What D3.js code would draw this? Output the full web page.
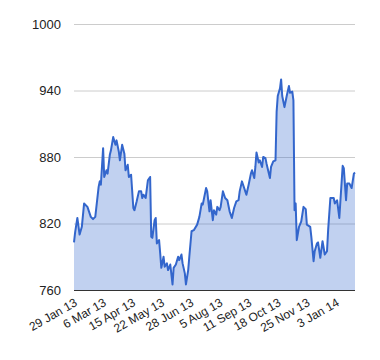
<!DOCTYPE html>
<html><head><meta charset="utf-8">
<script src="https://cdn.jsdelivr.net/npm/d3@7"></script>
<style>body{margin:0;background:#fff}svg{display:block}</style>
</head><body><svg id="c" width="380" height="360"></svg>
<script>
// trading-day index (0..251) and closing values
const days = [0,1,3,5,7,9,12,15,17,19,22,23,24,26,27,29,30,32,33,35,37,38,40,41,43,45,46,48,49,51,53,54,56,58,60,61,62,64,66,68,69,70,72,73,74,76,77,78,80,81,83,84,86,88,89,91,93,94,96,97,99,100,102,103,105,107,110,112,114,115,118,119,121,122,124,125,127,128,130,131,133,135,137,139,141,143,145,147,148,150,152,153,154,156,158,159,161,162,163,165,166,168,169,171,172,175,176,178,180,181,182,184,185,186,188,190,192,193,195,196,197,198,199,201,203,205,207,208,211,212,214,215,217,218,220,222,224,226,227,229,232,233,235,237,238,240,241,243,244,246,248,250,251];
const values = [803,812,825,810,817,838,835,826,824,826,853,858,855,888,862,868,865,882,886,898,891,895,885,877,891,883,868,873,862,864,834,832,840,849,849,843,846,843,859,862,808,807,823,825,802,805,793,780,790,781,784,778,783,765,780,783,790,787,792,784,775,765,778,790,813,814,819,826,838,837,852,849,831,841,823,832,828,835,832,835,849,843,841,831,825,834,840,841,849,858,852,849,846,855,865,868,861,871,884,875,877,871,880,879,874,861,871,876,877,921,935,942,950,935,925,935,944,938,939,931,832,838,805,817,822,835,833,819,817,808,786,795,802,803,789,804,792,795,814,843,843,838,841,825,841,872,870,841,856,856,852,865,866];
const tickDays = [0,26,52,78,104,130,156,182,208,234];
const tickLabels = ["29 Jan 13","6 Mar 13","15 Apr 13","22 May 13","28 Jun 13","5 Aug 13","11 Sep 13","18 Oct 13","25 Nov 13","3 Jan 14"];
const yTicks = [760,820,880,940,1000];

const svg = d3.select("#c");
const L = 74, R = 355, T = 24, B = 290;
const x = d3.scaleLinear().domain([0,251]).range([L,R]);
const y = d3.scaleLinear().domain([760,1000]).range([B,T]);
const data = days.map((d,i)=>({d, v: values[i]}));
const font = "Arial, 'Liberation Sans', sans-serif";

// gridlines
svg.append("g").selectAll("line").data(yTicks.slice(1)).join("line")
  .attr("x1",L).attr("x2",R).attr("y1",d=>y(d)+0.5).attr("y2",d=>y(d)+0.5)
  .attr("stroke","#cccccc").attr("stroke-width",1);

// area
svg.append("path").datum(data)
  .attr("d", d3.area().x(p=>x(p.d)).y0(y(760)).y1(p=>y(p.v)))
  .attr("fill","#3366cc").attr("fill-opacity",0.3);
// line
svg.append("path").datum(data)
  .attr("d", d3.line().x(p=>x(p.d)).y(p=>y(p.v)))
  .attr("fill","none").attr("stroke","#3366cc").attr("stroke-width",2).attr("stroke-linejoin","round");

// baseline
svg.append("line").attr("x1",L).attr("x2",R).attr("y1",y(760)+0.5).attr("y2",y(760)+0.5)
  .attr("stroke","#333333").attr("stroke-width",1);

// y labels
svg.append("g").selectAll("text").data(yTicks).join("text")
  .attr("x",61).attr("y",d=>y(d)+4.5).attr("text-anchor","end")
  .attr("font-family",font).attr("font-size",13).attr("fill","#222222")
  .text(d=>d);

// x labels
svg.append("g").selectAll("text").data(tickDays).join("text")
  .attr("transform",d=>`translate(${x(d)+4},${305}) rotate(-30)`)
  .attr("text-anchor","end")
  .attr("font-family",font).attr("font-size",12).attr("fill","#222222")
  .text((d,i)=>tickLabels[i]);
</script></body></html>
